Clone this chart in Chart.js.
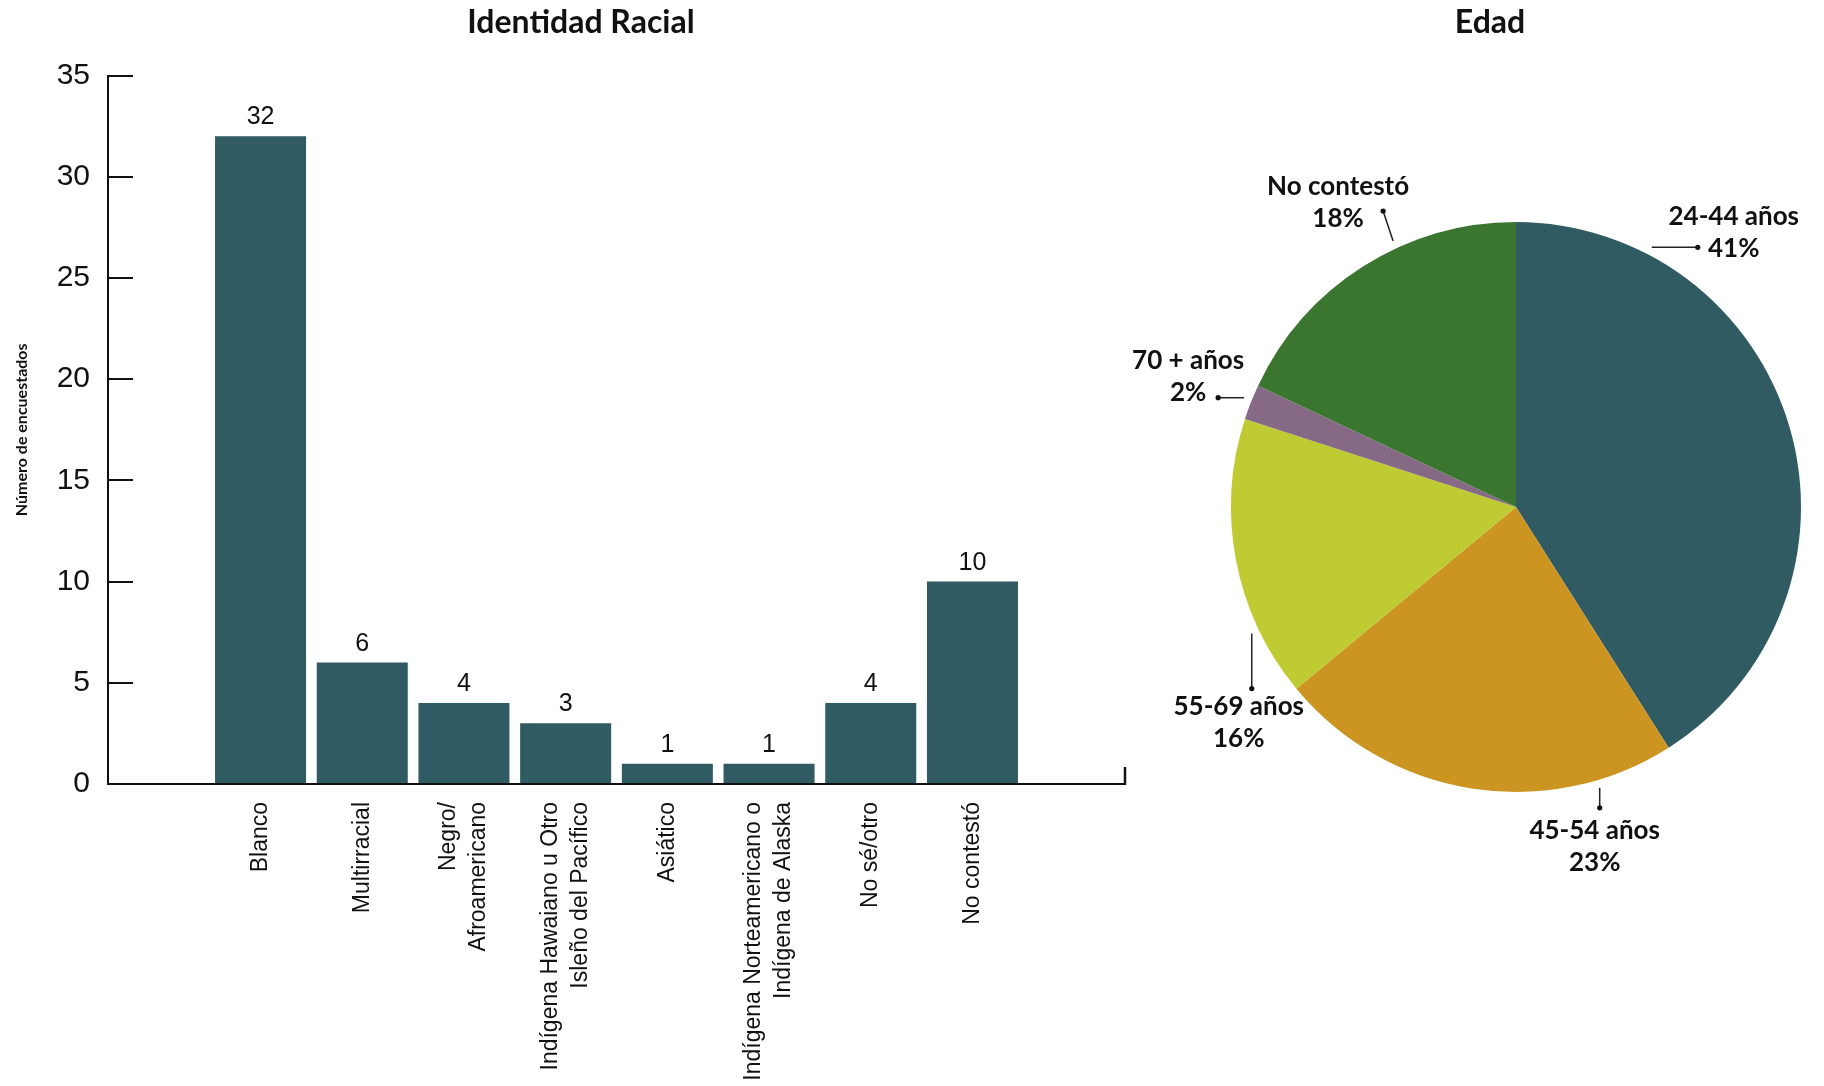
<!DOCTYPE html>
<html>
<head>
<meta charset="utf-8">
<script src="https://cdn.jsdelivr.net/npm/chart.js@4.4.1/dist/chart.umd.min.js"></script>
<style>
  html, body { margin: 0; padding: 0; background: #ffffff; }
  #wrap { position: relative; width: 1824px; height: 1086px; overflow: hidden; background: #ffffff; }
  #bar { position: absolute; left: 0; top: 0; }
  #pie { position: absolute; left: 1120px; top: 0; }
</style>
</head>
<body>
<div id="wrap">
  <canvas id="bar" width="1162" height="1086"></canvas>
  <canvas id="pie" width="740" height="1086"></canvas>
</div>
<script>
// ---------- DATA ----------
const raceCategories = [
  ['Blanco'],
  ['Multirracial'],
  ['Negro/', 'Afroamericano'],
  ['Indígena Hawaiano u Otro', 'Isleño del Pacífico'],
  ['Asiático'],
  ['Indígena Norteamericano o', 'Indígena de Alaska'],
  ['No sé/otro'],
  ['No contestó']
];
const raceCounts = [32, 6, 4, 3, 1, 1, 4, 10];
const yTickValues = [0, 5, 10, 15, 20, 25, 30, 35];

const ageLabels = ['24-44 años', '45-54 años', '55-69 años', '70 + años', 'No contestó'];
const agePercents = [41, 23, 16, 2, 18];

const barTitle = 'Identidad Racial';
const yAxisTitle = 'Número de encuestados';
const pieTitle = 'Edad';

// ---------- STYLE ----------
const TEAL = '#305b62';
const ageColors = ['#305b62', '#cc9522', '#bfcb32', '#866985', '#3b7630'];
const INK = '#111111';

// label placement around the pie (angle from top, clockwise; leader vector; text offset from dot)
const pieLabelLayout = [
  { ang: 27.6,  lead: [46, 0],   text: [36, -15] },
  { ang: 163.4, lead: [0, 20],   text: [-5, 38.5] },
  { ang: 244.4, lead: [0, 55],   text: [-13, 34.5] },
  { ang: 291.9, lead: [-26, 0],  text: [-30, -21.5] },
  { ang: 335.2, lead: [-10, -30], text: [-45, -8] }
];

// empty slot on each side of the bars
const barLabels = [''].concat(raceCategories, ['']);
const barData = [null].concat(raceCounts, [null]);

function draw() {
  const titleShift = {
    id: 'titleShift',
    afterLayout(chart) {
      if (chart.titleBlock) {
        chart.titleBlock.left = 0;
        chart.titleBlock.right = chart.width;
      }
    }
  };

  const barDecor = {
    id: 'barDecor',
    afterDatasetsDraw(chart) {
      const ctx = chart.ctx;
      const xs = chart.scales.x;
      const meta = chart.getDatasetMeta(0);
      const data = chart.data.datasets[0].data;
      ctx.save();
      // value labels
      ctx.font = '25px "Liberation Sans", Arial, sans-serif';
      ctx.fillStyle = INK;
      ctx.textAlign = 'center';
      ctx.textBaseline = 'alphabetic';
      meta.data.forEach((bar, i) => {
        const v = data[i];
        if (v === null || v === undefined) return;
        ctx.fillText(String(v), bar.x, bar.y - 12);
      });
      // rotated category labels, multi-line blocks centred on the bar
      ctx.font = '23px "Liberation Sans", Arial, sans-serif';
      ctx.textAlign = 'right';
      ctx.textBaseline = 'middle';
      const lh = 30;
      chart.data.labels.forEach((lab, i) => {
        const lines = Array.isArray(lab) ? lab : [lab];
        if (!lines.join('')) return;
        const x = xs.getPixelForTick(i);
        lines.forEach((ln, j) => {
          const off = (j - (lines.length - 1) / 2) * lh;
          ctx.save();
          ctx.translate(x + off, xs.top + 18);
          ctx.rotate(-Math.PI / 2);
          ctx.fillText(ln, 0, 0);
          ctx.restore();
        });
      });
      // small upward tick at the right end of the x axis
      ctx.strokeStyle = INK;
      ctx.lineWidth = 2.5;
      ctx.beginPath();
      ctx.moveTo(chart.chartArea.right, xs.top + 1);
      ctx.lineTo(chart.chartArea.right, xs.top - 17);
      ctx.stroke();
      ctx.restore();
    }
  };

  new Chart(document.getElementById('bar'), {
    type: 'bar',
    data: {
      labels: barLabels,
      datasets: [{
        data: barData,
        backgroundColor: TEAL,
        borderWidth: 0,
        categoryPercentage: 1,
        barPercentage: 0.895
      }]
    },
    options: {
      responsive: false,
      animation: false,
      layout: { padding: { right: 37 } },
      plugins: {
        legend: { display: false },
        tooltip: { enabled: false },
        title: {
          display: true,
          text: barTitle,
          color: INK,
          font: { family: 'Lato', size: 32, weight: 'bold', lineHeight: 1.2 },
          padding: { top: 3, bottom: 34.2 }
        }
      },
      scales: {
        x: {
          grid: { display: false, drawTicks: false },
          border: { display: true, color: INK, width: 2 },
          ticks: { display: false },
          afterFit(s) { s.height = 302; }
        },
        y: {
          min: 0,
          max: 35,
          afterBuildTicks(s) { s.ticks = yTickValues.map(v => ({ value: v })); },
          grid: { drawOnChartArea: false, drawTicks: true, tickLength: -25, color: INK, lineWidth: 2 },
          border: { display: true, color: INK, width: 2 },
          ticks: {
            color: INK,
            padding: 43,
            font: { family: 'Liberation Sans', size: 30 }
          },
          title: {
            display: true,
            text: yAxisTitle,
            color: INK,
            font: { family: 'Lato', size: 16, weight: 'bold', lineHeight: 1.2 },
            padding: { top: 12, bottom: 0 }
          },
          afterFit(s) { s.width = 108; }
        }
      }
    },
    plugins: [titleShift, barDecor]
  });

  const pieLabels = {
    id: 'pieLabels',
    afterDatasetsDraw(chart) {
      const ctx = chart.ctx;
      const meta = chart.getDatasetMeta(0);
      const vals = chart.data.datasets[0].data;
      ctx.save();
      meta.data.forEach((arc, i) => {
        const L = pieLabelLayout[i];
        const a = L.ang * Math.PI / 180;
        const r = arc.outerRadius + 8;
        const sx = arc.x + r * Math.sin(a);
        const sy = arc.y - r * Math.cos(a);
        const dx = sx + L.lead[0];
        const dy = sy + L.lead[1];
        ctx.strokeStyle = '#222222';
        ctx.lineWidth = 1.5;
        ctx.beginPath();
        ctx.moveTo(sx, sy);
        ctx.lineTo(dx, dy);
        ctx.stroke();
        ctx.fillStyle = '#111111';
        ctx.beginPath();
        ctx.arc(dx, dy, 2.6, 0, Math.PI * 2);
        ctx.fill();
        const tx = dx + L.text[0];
        const ty = dy + L.text[1];
        ctx.font = 'bold 26px Lato, sans-serif';
        ctx.textAlign = 'center';
        ctx.textBaseline = 'middle';
        ctx.fillStyle = INK;
        ctx.fillText(chart.data.labels[i], tx, ty - 16);
        ctx.fillText(vals[i] + '%', tx, ty + 16);
      });
      ctx.restore();
    }
  };

  new Chart(document.getElementById('pie'), {
    type: 'pie',
    data: {
      labels: ageLabels,
      datasets: [{
        data: agePercents,
        backgroundColor: ageColors,
        borderWidth: 0
      }]
    },
    options: {
      responsive: false,
      animation: false,
      layout: { padding: { left: 111, right: 59, bottom: 294 } },
      plugins: {
        legend: { display: false },
        tooltip: { enabled: false },
        title: {
          display: true,
          text: pieTitle,
          color: INK,
          font: { family: 'Lato', size: 32, weight: 'bold', lineHeight: 1.2 },
          padding: { top: 3, bottom: 180.6 }
        }
      }
    },
    plugins: [titleShift, pieLabels]
  });
}

const fontLoads = [
  document.fonts.load('bold 32px Lato'),
  document.fonts.load('bold 16px Lato'),
  document.fonts.load('30px "Liberation Sans"')
];
Promise.all(fontLoads).then(draw, draw);
</script>
</body>
</html>
